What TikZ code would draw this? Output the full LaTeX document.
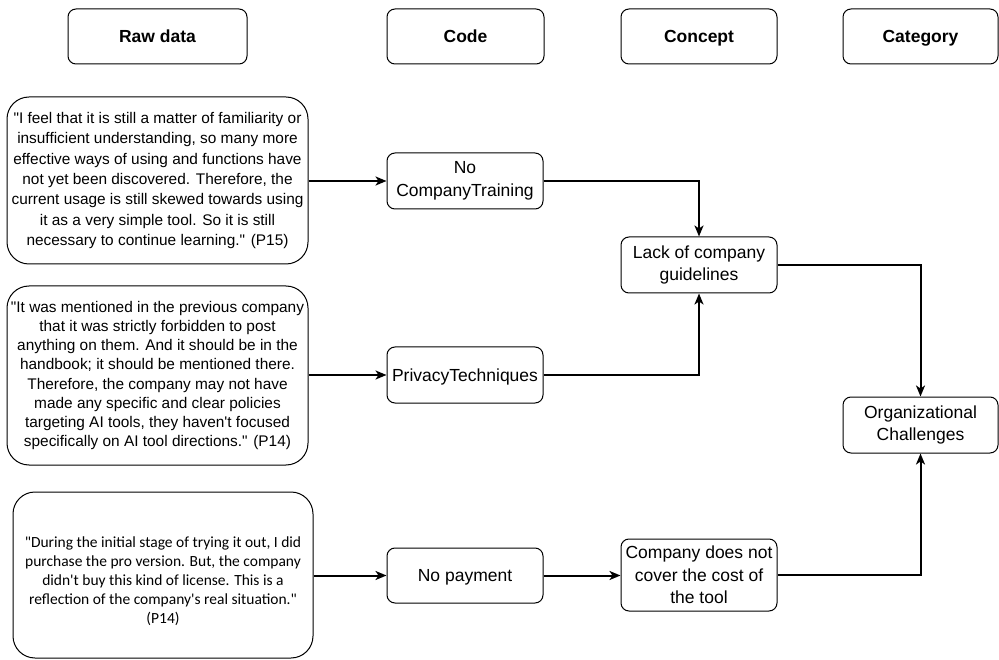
\documentclass[tikz,border=0pt]{standalone}
\usepackage{fontspec}
\setmainfont{Liberation Sans}
\newfontfamily\calib{Carlito}
\usetikzlibrary{arrows.meta,positioning}
\newcommand\dq{\textquotedbl}
\newcommand\sq{\textquotesingle}
\tikzset{
  hdr/.style={draw, line width=1pt, rounded corners=8pt, minimum height=55pt, inner sep=0pt,
    text height=12.6pt, text depth=0pt,
    font=\fontsize{17.5}{21}\selectfont\bfseries},
  quote/.style={draw, line width=1pt, rounded corners=22pt, inner sep=0pt, align=center},
  box/.style={draw, line width=1pt, rounded corners=8pt, inner sep=0pt, align=center,
    minimum width=156pt, minimum height=56pt, font=\fontsize{17.5}{22.5}\selectfont},
  oneline/.style={text height=12.6pt, text depth=0pt},
  arr/.style={line width=2pt, -{Stealth[length=11pt,width=9pt,inset=3pt]}}
}
\begin{document}
\begin{tikzpicture}[x=1pt,y=-1pt]
\useasboundingbox (0,0) rectangle (999,660);
% headers
\node[hdr, minimum width=179pt] (hraw) at (157.5,36.5) {Raw data};
\node[hdr, minimum width=157pt] (hcode) at (465.5,36.5) {Code};
\node[hdr, minimum width=156pt] (hconc) at (699,36.5) {Concept};
\node[hdr, minimum width=155pt] (hcat) at (920.5,36.5) {Category};
% quotes
\node[quote, minimum width=301pt, minimum height=167pt,
  font=\fontsize{15.4}{20.4}\selectfont] (q1) at (157.5,180.5)
 {\dq I feel that it is still a matter of familiarity or\\
  insufficient understanding, so many more\\
  effective ways of using and functions have\\
  not yet been discovered. Therefore, the\\
  current usage is still skewed towards using\\
  it as a very simple tool. So it is still\\
  necessary to continue learning.\dq{} (P15)};
\node[quote, minimum width=301pt, minimum height=179pt,
  font=\fontsize{15.4}{19.2}\selectfont] (q2) at (157.5,375.5)
 {\dq It was mentioned in the previous company\\
  that it was strictly forbidden to post\\
  anything on them. And it should be in the\\
  handbook; it should be mentioned there.\\
  Therefore, the company may not have\\
  made any specific and clear policies\\
  targeting AI tools, they haven\sq t focused\\
  specifically on AI tool directions.\dq{} (P14)};
\node[quote, minimum width=300pt, minimum height=166pt] (q3) at (163,575) {};
\node[font=\fontsize{15.5}{19}\selectfont\calib, align=center, inner sep=0pt] (q3t) at (163,581)
 {\dq During the initial stage of trying it out, I did\\
  purchase the pro version. But, the company\\
  didn\sq t buy this kind of license. This is a\\
  reflection of the company\sq s real situation.\dq\\
  (P14)};
% codes
\node[box] (nct) at (465,181) {No\\CompanyTraining};
\node[box, oneline] (priv) at (465,375) {PrivacyTechniques};
\node[box, oneline, minimum height=55pt] (nopay) at (465,575.5) {No payment};
% concepts
\node[box] (lack) at (699,265) {Lack of company\\guidelines};
\node[box, minimum height=72pt] (cover) at (699,575) {Company does not\\cover the cost of\\the tool};
% category
\node[box, minimum width=155pt] (org) at (920.5,425) {Organizational\\Challenges};
% arrows
\draw[arr] (q1.east |- nct.west) -- (nct.west);
\draw[arr] (q2.east |- priv.west) -- (priv.west);
\draw[arr] (q3.east |- nopay.west) -- (nopay.west);
\draw[arr] (nct.east) -| (lack.north);
\draw[arr] (priv.east) -| (lack.south);
\draw[arr] (nopay.east) -- (cover.west |- nopay.east);
\draw[arr] (lack.east) -| (org.north);
\draw[arr] (cover.east) -| (org.south);
\end{tikzpicture}
\end{document}
